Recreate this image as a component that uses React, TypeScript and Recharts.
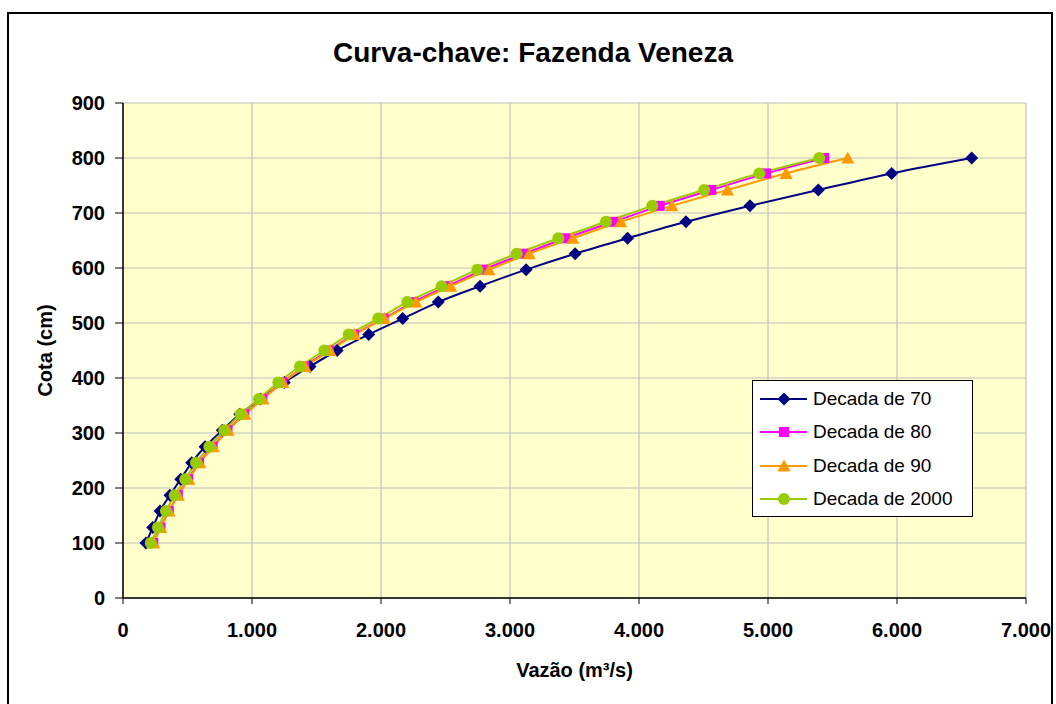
import { LineChart, Line, XAxis, YAxis, CartesianGrid } from "recharts";

// cota (cm) levels shared by every decade
const cota = [100, 128, 158, 187, 216, 246, 275, 305, 334, 362, 392, 421, 450, 479, 508, 538, 567, 597, 626, 654, 684, 713, 742, 772, 800];

// vazão (m³/s) for each decade, one value per cota level
const vazao70 = [178, 230, 287, 364, 447, 532, 636, 770, 905, 1065, 1250, 1450, 1660, 1905, 2168, 2444, 2768, 3125, 3505, 3912, 4364, 4860, 5390, 5959, 6579];
const vazao80 = [235, 290, 355, 425, 505, 590, 695, 810, 940, 1080, 1235, 1405, 1595, 1790, 2020, 2250, 2515, 2795, 3110, 3430, 3800, 4160, 4560, 4985, 5435];
const vazao90 = [238, 292, 357, 428, 510, 595, 700, 815, 945, 1085, 1240, 1412, 1605, 1795, 2026, 2270, 2540, 2837, 3148, 3486, 3858, 4255, 4686, 5140, 5618];
const vazao2000 = [215, 271, 333, 401, 483, 566, 669, 785, 912, 1054, 1204, 1372, 1561, 1750, 1979, 2204, 2470, 2747, 3052, 3375, 3744, 4103, 4505, 4933, 5398];

const xTicks = [0, 1000, 2000, 3000, 4000, 5000, 6000, 7000];
const yTicks = [0, 100, 200, 300, 400, 500, 600, 700, 800, 900];

const toPoints = (q: number[]) => q.map((x, i) => ({ x, y: cota[i] }));

const FONT = "'Liberation Sans', Arial, sans-serif";

type Shape = "diamond" | "square" | "triangle" | "circle";

function Marker({ cx, cy, shape, color }: { cx: number; cy: number; shape: Shape; color: string }) {
    if (shape === "diamond") {
        const r = 6.5;
        return <path d={`M${cx},${cy - r}L${cx + r},${cy}L${cx},${cy + r}L${cx - r},${cy}Z`} fill={color} />;
    }
    if (shape === "square") {
        const r = 5;
        return <rect x={cx - r} y={cy - r} width={r * 2} height={r * 2} fill={color} />;
    }
    if (shape === "triangle") {
        return <path d={`M${cx},${cy - 6.5}L${cx + 6.5},${cy + 5.5}L${cx - 6.5},${cy + 5.5}Z`} fill={color} />;
    }
    return <circle cx={cx} cy={cy} r={6} fill={color} />;
}

const series = [
    { name: "Decada de 70", data: toPoints(vazao70), color: "#000080", shape: "diamond" as Shape },
    { name: "Decada de 80", data: toPoints(vazao80), color: "#FF00FF", shape: "square" as Shape },
    { name: "Decada de 90", data: toPoints(vazao90), color: "#FF9900", shape: "triangle" as Shape },
    { name: "Decada de 2000", data: toPoints(vazao2000), color: "#99CC00", shape: "circle" as Shape },
];

// legend drawn as a box sitting over the plot area
function LegendBox() {
    return (
        <div
            style={{
                position: "absolute",
                left: 752,
                top: 380,
                background: "#fff",
                border: "1px solid #000",
                width: 221,
                height: 137,
                boxSizing: "border-box",
                paddingTop: 1,
                fontFamily: FONT,
            }}
        >
            {series.map((s) => (
                <div key={s.name} style={{ display: "flex", alignItems: "center", height: 33.5 }}>
                    <svg width={60} height={20} style={{ flex: "none" }}>
                        <line x1={7} y1={10} x2={54} y2={10} stroke={s.color} strokeWidth={2} />
                        <Marker cx={31} cy={10} shape={s.shape} color={s.color} />
                    </svg>
                    <span style={{ fontSize: 19, color: "#000", whiteSpace: "nowrap" }}>{s.name}</span>
                </div>
            ))}
        </div>
    );
}

const tickStyle = { fontSize: 20, fontWeight: "bold", fill: "#000", fontFamily: FONT };

export default function App() {
    return (
        <div style={{ position: "absolute", left: 0, top: 0, width: 1056, height: 704, background: "#fff", overflow: "hidden" }}>
            <div
                style={{
                    position: "absolute",
                    left: 7,
                    top: 12,
                    width: 1046,
                    height: 720,
                    border: "2px solid #000",
                    boxSizing: "border-box",
                }}
            />
            <div
                style={{
                    position: "absolute",
                    left: 0,
                    width: 1056,
                    top: 37,
                    textAlign: "center",
                    fontFamily: FONT,
                    fontWeight: "bold",
                    fontSize: 28,
                    paddingLeft: 10,
                    boxSizing: "border-box",
                }}
            >
                Curva-chave: Fazenda Veneza
            </div>
            <LineChart
                width={1056}
                height={704}
                margin={{ top: 103, right: 30, left: 0, bottom: 21 }}
                style={{ position: "absolute", left: 0, top: 0 }}
            >
                <CartesianGrid stroke="#C0C0C0" fill="#FFFFCC" strokeWidth={1.2} />
                <XAxis
                    type="number"
                    dataKey="x"
                    domain={[0, 7000]}
                    ticks={xTicks}
                    interval={0}
                    tickFormatter={(v: number) => (v === 0 ? "0" : `${v / 1000}.000`)}
                    height={85}
                    tickSize={6}
                    tickMargin={19}
                    tick={tickStyle}
                    axisLine={{ stroke: "#000", strokeWidth: 1.5 }}
                    tickLine={{ stroke: "#000" }}
                    allowDuplicatedCategory={false}
                    label={{
                        value: "Vazão (m³/s)",
                        position: "insideBottom",
                        offset: 6,
                        style: { fontSize: 20, fontWeight: "bold", fill: "#000", fontFamily: FONT },
                    }}
                />
                <YAxis
                    type="number"
                    dataKey="y"
                    domain={[0, 900]}
                    ticks={yTicks}
                    interval={0}
                    width={123}
                    tickSize={8}
                    tickMargin={10}
                    tick={tickStyle}
                    axisLine={{ stroke: "#000", strokeWidth: 1.5 }}
                    tickLine={{ stroke: "#000" }}
                    label={{
                        value: "Cota (cm)",
                        angle: -90,
                        position: "insideLeft",
                        offset: 45,
                        style: { fontSize: 20, fontWeight: "bold", fill: "#000", fontFamily: FONT, textAnchor: "middle" },
                    }}
                />
                {series.map((s) => (
                    <Line
                        key={s.name}
                        name={s.name}
                        data={s.data}
                        dataKey="y"
                        type="monotone"
                        stroke={s.color}
                        strokeWidth={2}
                        isAnimationActive={false}
                        dot={(p: any) => (
                            <Marker key={`${s.name}-${p.index}`} cx={p.cx} cy={p.cy} shape={s.shape} color={s.color} />
                        )}
                        activeDot={false}
                    />
                ))}
            </LineChart>
            <LegendBox />
        </div>
    );
}
